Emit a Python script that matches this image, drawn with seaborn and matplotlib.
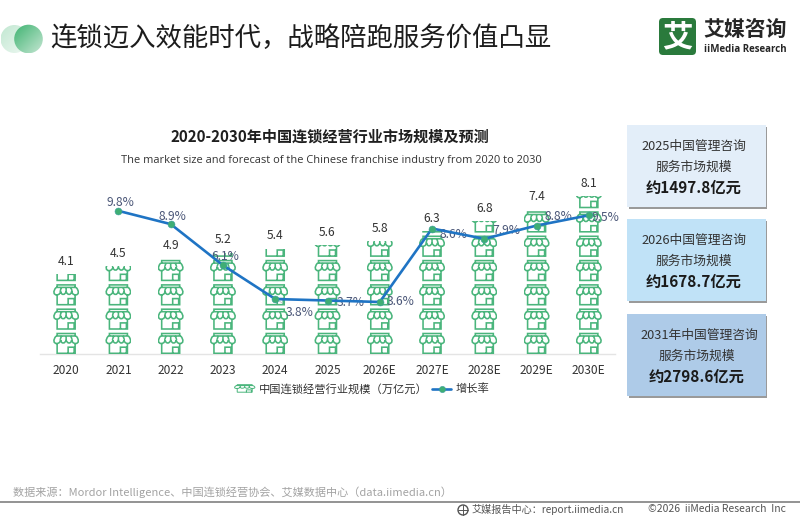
import numpy as np
import matplotlib
matplotlib.use("Agg")
import matplotlib.pyplot as plt
import seaborn as sns
from matplotlib.path import Path
from matplotlib.patches import PathPatch, Rectangle, Circle, FancyBboxPatch
from matplotlib.transforms import Affine2D
from matplotlib.lines import Line2D
from matplotlib.legend_handler import HandlerBase

categories = ["2020", "2021", "2022", "2023", "2024", "2025", "2026E", "2027E", "2028E", "2029E", "2030E"]
market_size = [4.1, 4.5, 4.9, 5.2, 5.4, 5.6, 5.8, 6.3, 6.8, 7.4, 8.1]
growth_categories = categories[1:]
growth_rate = [9.8, 8.9, 6.1, 3.8, 3.7, 3.6, 8.6, 7.9, 8.8, 9.5]
growth_label_offset_px = [(2, 8), (2, 8), (2, 9), (24, -13), (23, -2), (21, 0), (21, -6), (22, 8), (22, 9), (17, -2)]
growth_label_leader = [False, False, False, True, False, False, True, True, True, False]
cards = [
    ("2025中国管理咨询", "服务市场规模", "约1497.8亿元", "#e3eef9", 125),
    ("2026中国管理咨询", "服务市场规模", "约1678.7亿元", "#c0e2f7", 219),
    ("2031年中国管理咨询", "服务市场规模", "约2798.6亿元", "#aecbe8", 314),
]

sns.set_theme(style="white")
plt.rcParams["font.family"] = ["Noto Sans CJK SC", "DejaVu Sans"]

W, H = 800, 520
fig = plt.figure(figsize=(W / 100, H / 100), dpi=100, facecolor="white")

# Decoration layer addressed in figure pixels
bg = fig.add_axes([0, 0, 1, 1], zorder=0)


def gradient_circle(cx, cy, r, c0, c1):
    u = np.linspace(0, 1, 64)
    g = np.clip((u[None, :] + u[:, None]) / 2, 0, 1)[..., None]
    c0, c1 = np.array(matplotlib.colors.to_rgb(c0)), np.array(matplotlib.colors.to_rgb(c1))
    img = c0 * (1 - g) + c1 * g
    im = bg.imshow(img, extent=(cx - r, cx + r, cy + r, cy - r), aspect="auto", zorder=2)
    im.set_clip_path(Circle((cx, cy), r, transform=bg.transData))


gradient_circle(14.5, 39, 14, "#c2e8d2", "#eef8f2")
gradient_circle(28.5, 39, 14.3, "#3fb371", "#c4e6d2")
bg.text(50, 38.5, "连锁迈入效能时代，战略陪跑服务价值凸显", fontsize=19, color="#1c1c1c", va="center", ha="left")

bg.add_patch(FancyBboxPatch((661, 20), 33, 33, boxstyle="round,pad=2,rounding_size=4", fc="#2a7a3c", ec="none"))
bg.text(677.5, 37, "艾", fontsize=22, color="white", weight="bold", ha="center", va="center")
bg.text(703, 29, "艾媒咨询", fontsize=15, color="#262626", weight="bold", ha="left", va="center")
bg.text(704, 49.5, "iiMedia Research", fontsize=7.0, color="#262626", weight="bold", ha="left", va="center", family="Open Sans")

bg.text(330, 137, "2020-2030年中国连锁经营行业市场规模及预测", fontsize=10.9, weight="bold", color="#1f1f1f", ha="center", va="center")
bg.text(331, 160, "The market size and forecast of the Chinese franchise industry from 2020 to 2030",
        fontsize=7.95, color="#333333", ha="center", va="center", family="Open Sans")

for line1, line2, line3, col, top in cards:
    bg.add_patch(Rectangle((629, top + 2), 138, 82, fc="#9a9a9a", ec="none", zorder=1))
    bg.add_patch(Rectangle((627, top), 139, 82, fc=col, ec="none", zorder=1.5))
    cx = 694 if "年" not in line1 else 699
    bg.text(cx, top + 21, line1, fontsize=9.2, color="#333333", ha="center", va="center", zorder=3)
    bg.text(694 if cx == 694 else 697, top + 42, line2, fontsize=9.2, color="#333333", ha="center", va="center", zorder=3)
    bg.text(694 if cx == 694 else 697, top + 63, line3, fontsize=11, color="#1a1a1a", weight="bold", ha="center", va="center", zorder=3)

bg.text(13, 492, "数据来源：Mordor Intelligence、中国连锁经营协会、艾媒数据中心（data.iimedia.cn）",
        fontsize=8, color="#a3a3a3", ha="left", va="center")
bg.plot([0, 800], [502, 502], color="#8a8a8a", lw=1.3, zorder=1)
bg.add_patch(Circle((463, 510), 5, fc="none", ec="#555555", lw=1))
bg.plot([458, 468], [510, 510], color="#555555", lw=0.7)
bg.plot([463, 463], [505, 515], color="#555555", lw=0.7)
bg.text(472, 509.5, "艾媒报告中心：report.iimedia.cn", fontsize=7.3, color="#555555", ha="left", va="center")
bg.text(786, 509.5, "©2026  iiMedia Research  Inc", fontsize=7.5, color="#555555", ha="right", va="center")
bg.set_xlim(0, W)
bg.set_ylim(H, 0)
bg.axis("off")

# Main chart: axes box in pixels 40..615 / 159..354
ax = fig.add_axes([40 / W, 1 - 354 / H, 575 / W, 195 / H], zorder=2)
ax.patch.set_alpha(0)

sns.barplot(x=categories, y=market_size, ax=ax, color="white", alpha=0, width=0.5, order=categories)
ax.set_ylim(0, 10)
ax.set_xlim(-0.5, len(categories) - 0.5)

PX_X = 1 / (575 / len(categories))
PX_Y = 10 / 195
ICON_PITCH_PX = 24.3
GREEN = "#4ab57c"


def store_path():
    """Shop-front glyph in pixel units; x is centred, y runs up from its base."""
    v, c = [], []

    def line(*pts):
        for k, p in enumerate(pts):
            v.append(p)
            c.append(Path.MOVETO if k == 0 else Path.LINETO)

    def curve(p0, p1, p2, p3):
        v.extend([p0, p1, p2, p3])
        c.extend([Path.MOVETO, Path.CURVE4, Path.CURVE4, Path.CURVE4])

    # roof band
    line((-9, 18), (-9, 20.5), (9, 20.5), (9, 18))
    line((-10, 18), (10, 18))
    # four awning lobes, bulging out at the sides
    curve((-10, 18), (-13.5, 14), (-12.5, 10.5), (-9.5, 10.5))
    curve((-9.5, 10.5), (-6.5, 10.5), (-5.5, 13), (-5.5, 14))
    curve((-4.5, 18), (-6, 15), (-6, 14), (-5.5, 14))
    curve((-5.5, 14), (-5, 10), (-1, 10), (-0, 14))
    curve((0, 18), (0, 16), (0, 15), (0, 14))
    curve((0, 14), (1, 10), (5, 10), (5.5, 14))
    curve((4.5, 18), (6, 15), (6, 14), (5.5, 14))
    curve((5.5, 14), (5.5, 13), (6.5, 10.5), (9.5, 10.5))
    curve((9.5, 10.5), (12.5, 10.5), (13.5, 14), (10, 18))
    # walls and door
    line((-9, 10.5), (-9, 0.7), (9, 0.7), (9, 10.5))
    line((2, 0.7), (2, 6.8), (8, 6.8), (8, 0.7))
    return Path(v, c)


STORE = store_path()
bars = list(ax.patches)
for i, (value, bar) in enumerate(zip(market_size, bars)):
    row = 0
    while row * ICON_PITCH_PX * PX_Y < value:
        tr = Affine2D().scale(PX_X, PX_Y).translate(i, row * ICON_PITCH_PX * PX_Y) + ax.transData
        icon = PathPatch(STORE, fc="none", ec=GREEN, lw=1.15, transform=tr, zorder=3)
        ax.add_artist(icon)
        icon.set_clip_path(bar.get_path(), bar.get_transform())
        row += 1
    ax.annotate(f"{value:.1f}", (i, value), xytext=(0, 9.2), textcoords="offset points",
                ha="center", va="center", fontsize=8.7, color="#333333", zorder=5)

ax.set(xlabel=None, ylabel=None, yticks=[])
ax.tick_params(axis="x", length=0, labelsize=8.6, labelcolor="#333333", pad=7.5)
sns.despine(ax=ax, left=True)
ax.spines["bottom"].set_color("#e4e4e4")
ax.spines["bottom"].set_linewidth(1)

# Growth-rate line on its own scale
ax2 = ax.twinx()
ax2.patch.set_alpha(0)
positions = [categories.index(c) for c in growth_categories]
sns.lineplot(x=positions, y=growth_rate, ax=ax2, color="#1f74c4", lw=1.9, marker="o", ms=5,
             mfc="#3fae74", mec="#3a9ea0", mew=0.4, sort=False, errorbar=None, legend=False, zorder=6)
ax2.set_ylim(0.06, 13.33)
ax2.set_yticks([])
ax2.set(xlabel=None, ylabel=None)
for s in ax2.spines.values():
    s.set_visible(False)

for x, rate, (dx, dy), leader in zip(positions, growth_rate, growth_label_offset_px, growth_label_leader):
    arrow = dict(arrowstyle="-", color="#c4c4c4", lw=0.7, shrinkA=0, shrinkB=0) if leader else None
    ax2.annotate(f"{rate:.1f}%", (x, rate), xytext=(dx * 0.72, dy * 0.72), textcoords="offset points",
                 ha="center", va="center", fontsize=8.7, color="#4b5778", zorder=5, arrowprops=arrow)


class StoreHandler(HandlerBase):
    def create_artists(self, legend, orig, xd, yd, w, h, fontsize, trans):
        sx, sy = 0.72 * 20 / 24, 0.72 * 8 / 21
        t = Affine2D().scale(sx, sy).translate(w / 2 - xd, -yd) + trans
        return [PathPatch(STORE, fc="none", ec=GREEN, lw=0.7, transform=t)]


store_handle = Rectangle((0, 0), 1, 1)
line_handle = Line2D([], [], color="#1f74c4", lw=1.9, marker="o", ms=4.5, mfc="#3fae74", mec="#3a9ea0", mew=0.4)
leg = ax2.legend([store_handle, line_handle], ["中国连锁经营行业规模（万亿元）", "增长率"],
                 handler_map={store_handle: StoreHandler()},
                 loc="center", bbox_to_anchor=(362 / W, 1 - 389 / H), bbox_transform=fig.transFigure,
                 ncol=2, frameon=False, fontsize=8.1, handlelength=1.75, handletextpad=0.35, columnspacing=0.4,
                 labelcolor="#333333", borderpad=0)

fig.savefig("out.png", dpi=100)
